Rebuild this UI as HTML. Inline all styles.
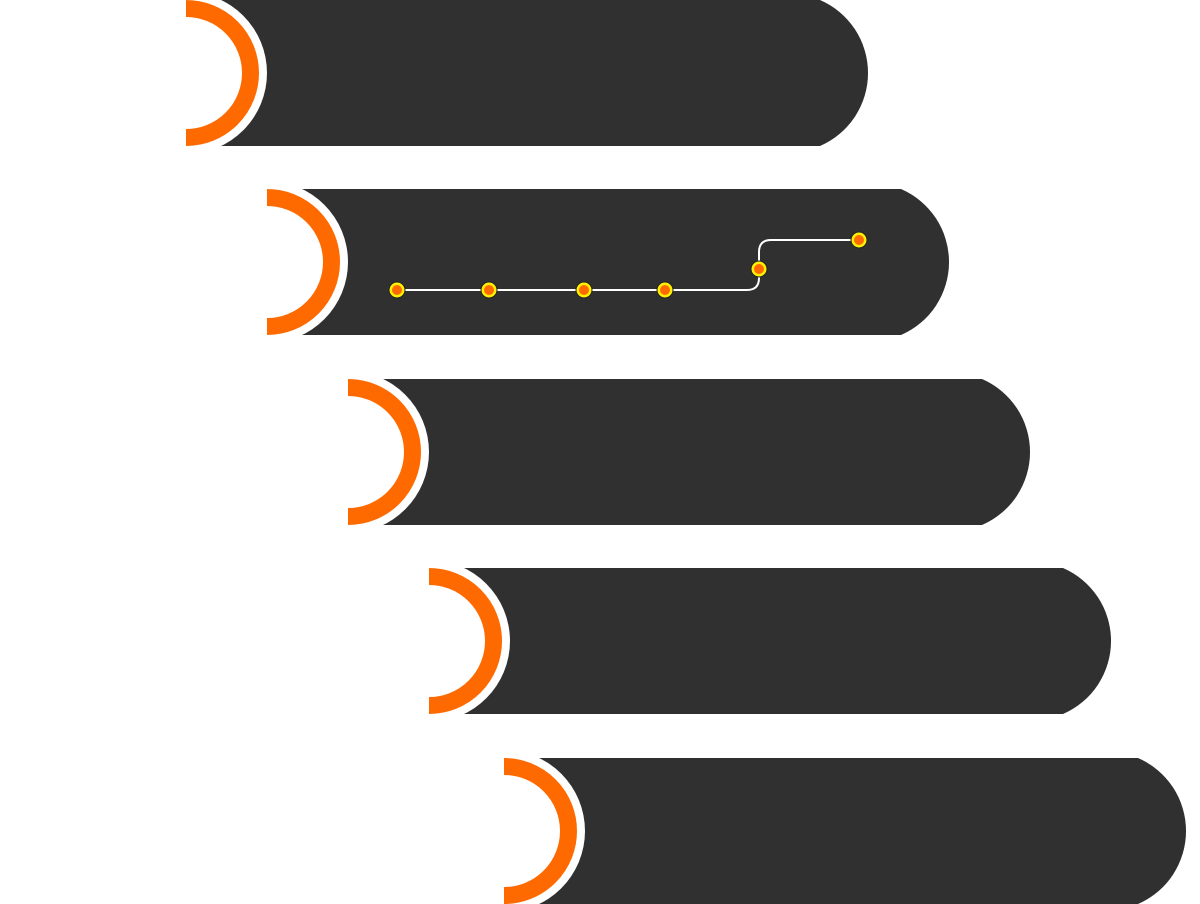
<!DOCTYPE html>
<html><head><style>html,body{margin:0;padding:0;background:#fff}svg{display:block}</style></head>
<body>
<svg width="1200" height="904" viewBox="0 0 1200 904" xmlns="http://www.w3.org/2000/svg">
<defs>
<g id="band">
<path d="M0,0 H634 A79.5,79.5 0 0 1 634,146 H0 Z" fill="#303030"/>
<circle cx="0" cy="73" r="81" fill="#fff"/>
<path d="M0,8.5 A64.5,64.5 0 0 1 0,137.5" fill="none" stroke="#ff6a00" stroke-width="17"/>
</g>
<g id="dot"><circle r="8" fill="#ffef00" stroke="#222" stroke-width="1"/><circle r="5" fill="#ff6a00"/></g>
</defs>
<use href="#band" x="186" y="0"/>
<use href="#band" x="267" y="189"/>
<use href="#band" x="348" y="379"/>
<use href="#band" x="429" y="568"/>
<use href="#band" x="504" y="758"/>
<path d="M397,290 H747 Q759,290 759,278 V252 Q759,240 771,240 H859" fill="none" stroke="#fff" stroke-width="2"/>
<use href="#dot" x="397" y="290"/>
<use href="#dot" x="489" y="290"/>
<use href="#dot" x="584" y="290"/>
<use href="#dot" x="665" y="290"/>
<use href="#dot" x="759" y="269"/>
<use href="#dot" x="859" y="240"/>
</svg>
</body></html>
